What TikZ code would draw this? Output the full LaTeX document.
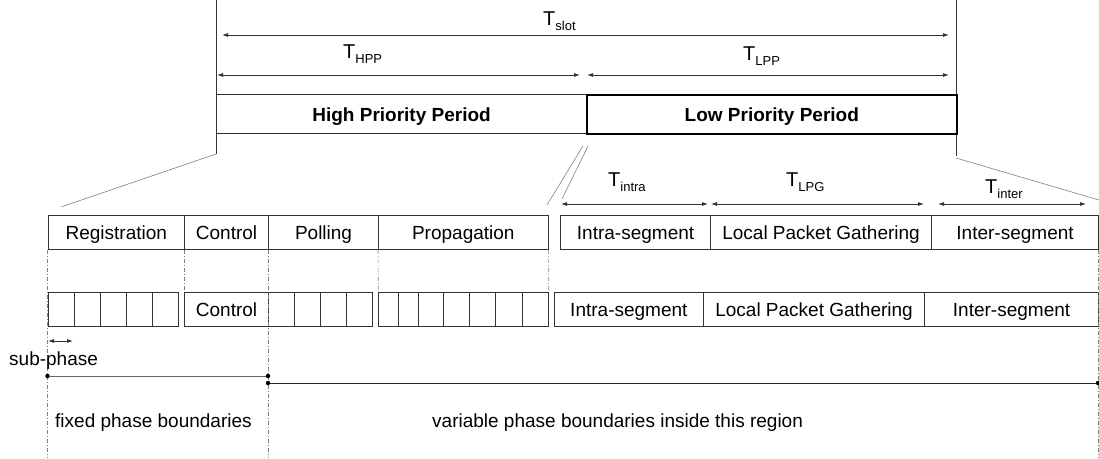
\documentclass[tikz,border=0pt]{standalone}
\usepackage{fontspec}
\setmainfont{Liberation Sans}
\usetikzlibrary{arrows.meta}
\newcommand{\Tlab}[1]{T\raisebox{-5pt}{\fontsize{13}{13}\selectfont #1}}
\begin{document}
\begin{tikzpicture}[x=1pt,y=-1pt,
  font=\fontsize{19}{22}\selectfont,
  box/.style={draw=black!80, line width=1.1pt, inner sep=0pt, minimum height=34pt, text height=18pt, text depth=4pt, anchor=north west},
  bigbox/.style={draw=black!80, line width=1.1pt, inner sep=0pt, minimum height=39pt, text height=18pt, text depth=4pt, anchor=north west, font=\fontsize{19}{22}\selectfont\bfseries},
  dim/.style={{Latex[length=6pt,width=4pt]}-{Latex[length=6pt,width=4pt]}, line width=0.8pt, black!80},
  zoomline/.style={gray, line width=0.6pt},
  guide/.style={gray, line width=0.6pt, dash pattern=on 4pt off 2pt on 1pt off 2pt},
  dotnode/.style={circle, fill=black, inner sep=0pt, minimum size=4.5pt},
  lab/.style={inner sep=0pt, anchor=base west, font=\fontsize{20}{22}\selectfont}
]
\useasboundingbox (0,0) rectangle (1099,458);
\fill[white] (0,0) rectangle (1099,458);

% ---- top slot ----
\coordinate (vlt) at (216,0);
\coordinate (vlb) at (216,154);
\coordinate (vrt) at (956,0);
\coordinate (vrb) at (956,156);
\draw[line width=0.9pt, black!80] (vlt) -- (vlb);
\draw[line width=0.9pt, black!80] (vrt) -- (vrb);

\node[bigbox, minimum width=370pt] (hpp) at (216,94) {High Priority Period};
\node[bigbox, minimum width=370pt, line width=1.6pt, draw=black] (lpp) at (586,94) {Low Priority Period};

\coordinate (s1) at (222,35);
\coordinate (s2) at (949,35);
\draw[dim] (s1) -- (s2);
\coordinate (h1) at (217,75);
\coordinate (h2) at (580,75);
\draw[dim] (h1) -- (h2);
\coordinate (l1) at (587,75);
\coordinate (l2) at (949,75);
\draw[dim] (l1) -- (l2);

\node[lab] (tslot) at (543,25.5) {\Tlab{slot}};
\node[lab] (thpp) at (343,58) {\Tlab{HPP}};
\node[lab] (tlpp) at (743,60) {\Tlab{LPP}};

% ---- zoom lines ----
\coordinate (zl) at (61,207);
\coordinate (zr) at (1099,200);
\draw[zoomline] (vlb) -- (zl);
\draw[zoomline] (956,158) -- (zr);
\coordinate (sa1) at (583,146);
\coordinate (sa2) at (547,205);
\coordinate (sb1) at (588,146);
\coordinate (sb2) at (562,199);
\draw[zoomline] (sa1) -- (sa2);
\draw[zoomline] (sb1) -- (sb2);

% ---- first detail row ----
\node[box, minimum width=136.5pt] (reg) at (47.5,215) {Registration};
\node[box, minimum width=84pt] (ctl) at (184,215) {Control};
\node[box, minimum width=110pt] (pol) at (268,215) {Polling};
\node[box, minimum width=169.5pt] (prop) at (378,215) {Propagation};
\node[box, minimum width=150pt] (intra) at (560,215) {Intra-segment};
\node[box, minimum width=221pt] (lpg) at (710,215) {Local Packet Gathering};
\node[box, minimum width=167pt] (inter) at (931,215) {Inter-segment};

\coordinate (a1) at (561,204);
\coordinate (a2) at (708,204);
\coordinate (a3) at (711,204);
\coordinate (a4) at (924,204);
\coordinate (a5) at (938,204);
\coordinate (a6) at (1086,204);
\draw[dim] (a1) -- (a2);
\draw[dim] (a3) -- (a4);
\draw[dim] (a5) -- (a6);
\node[lab] (tintra) at (608,186) {\Tlab{intra}};
\node[lab] (tlpg) at (786,186) {\Tlab{LPG}};
\node[lab] (tinter) at (985,193.5) {\Tlab{inter}};

% ---- second detail row ----
\foreach \i in {0,...,4} {
  \node[box, minimum width=26pt] (rc\i) at ({47.5+26*\i},292) {};
}
\node[box, minimum width=84pt] (ctl2) at (184,292) {Control};
\foreach \i in {0,...,3} {
  \node[box, minimum width=26pt] (pc\i) at ({268+26*\i},292) {};
}
\foreach \a/\b [count=\k] in {378.3/398.3, 398.3/417.7, 417.7/443.3, 443.3/469.3, 469.3/495.3, 495.3/521.7, 521.7/547.7} {
  \node[box, minimum width={(\b-\a)*1pt}] (gc\k) at (\a,292) {};
}
\node[box, minimum width=149.4pt] (intra2) at (553.6,292) {Intra-segment};
\node[box, minimum width=221pt] (lpg2) at (703,292) {Local Packet Gathering};
\node[box, minimum width=174pt] (inter2) at (924,292) {Inter-segment};

% ---- guides ----
\coordinate (g1b) at (47.5,458);
\coordinate (g3b) at (268,458);
\coordinate (g6t) at (1098,250);
\coordinate (g6b) at (1098,458);
\draw[guide] (reg.south west) -- (g1b);
\draw[guide] (ctl.south west) -- (ctl2.north west);
\draw[guide] (pol.south west) -- (g3b);
\draw[guide] (prop.south west) -- (gc1.north west);
\draw[guide] (prop.south east) -- (gc7.north east);
\draw[guide] (g6t) -- (g6b);

% ---- sub-phase and boundaries ----
\coordinate (sp1) at (48,341);
\coordinate (sp2) at (73,341);
\draw[dim] (sp1) -- (sp2);
\node[lab, font=\fontsize{19}{22}\selectfont] (subph) at (9,365) {sub-phase};

\node[dotnode] (d1) at (47.5,376) {};
\node[dotnode] (d2) at (268,376) {};
\node[dotnode] (d3) at (268,383) {};
\node[dotnode] (d4) at (1098,383) {};
\draw[line width=0.9pt, black!60] (d1) -- (d2);
\draw[line width=0.9pt, black!85] (d3) -- (d4);

\node[lab, font=\fontsize{19}{22}\selectfont] (fixed) at (55,427) {fixed phase boundaries};
\node[lab, font=\fontsize{19}{22}\selectfont] (var) at (432,427) {variable phase boundaries inside this region};
\end{tikzpicture}
\end{document}
